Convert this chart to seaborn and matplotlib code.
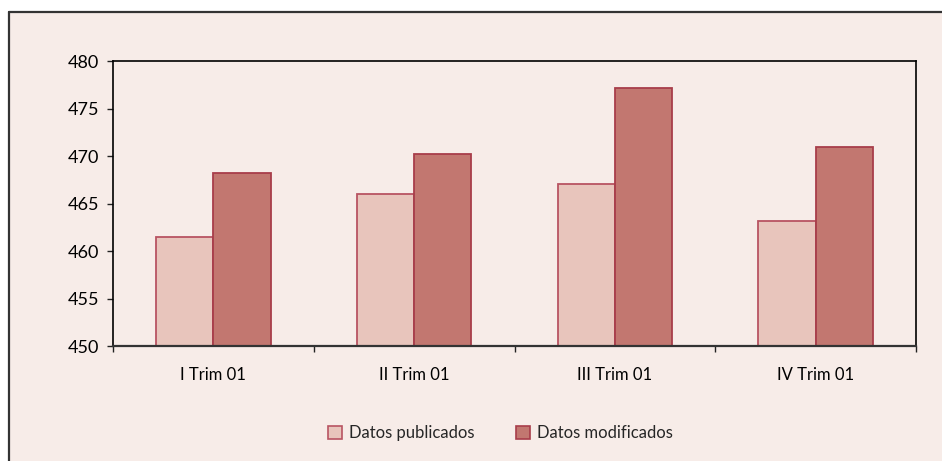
import matplotlib
matplotlib.use("Agg")
import matplotlib.pyplot as plt
import seaborn as sns
import pandas as pd
import numpy as np
from matplotlib.patches import Rectangle, Patch
from matplotlib.lines import Line2D

categories = ["I Trim 01", "II Trim 01", "III Trim 01", "IV Trim 01"]
publicados = [461.5, 466.0, 467.1, 463.2]
modificados = [468.2, 470.2, 477.2, 471.0]
series_names = ["Datos publicados", "Datos modificados"]
y_ticks = [450, 455, 460, 465, 470, 475, 480]

df = pd.DataFrame({
    "cat": categories * 2,
    "serie": [series_names[0]] * 4 + [series_names[1]] * 4,
    "valor": publicados + modificados,
})

sns.set_theme(style="white")
plt.rcParams["font.family"] = ["Lato", "DejaVu Sans"]

bg = "#f7ece8"
fill_colors = ["#e8c5bc", "#c27770"]
edge_colors = ["#b85462", "#a83d4a"]

fig = plt.figure(figsize=(9.42, 4.61), dpi=100)
fig.patch.set_facecolor("white")
# outer panel
fig.patches.append(Rectangle((9 / 942, 0), 1 - 9 / 942, (461 - 12) / 461,
                             transform=fig.transFigure, facecolor=bg,
                             edgecolor="none", zorder=-10))
fig.lines.append(Line2D([9 / 942, 1], [(461 - 12) / 461] * 2, transform=fig.transFigure,
                        color="#333333", lw=1.6, zorder=-5))
fig.lines.append(Line2D([9 / 942, 9 / 942], [0, (461 - 12) / 461], transform=fig.transFigure,
                        color="#333333", lw=1.6, zorder=-5))

ax = fig.add_axes([113 / 942, (461 - 346) / 461, (916 - 113) / 942, (346 - 61) / 461])
ax.set_facecolor(bg)
ax.set_zorder(1)

sns.barplot(data=df, x="cat", y="valor", hue="serie", palette=fill_colors,
            width=0.57, dodge=True, ax=ax, legend=False, saturation=1,
            linewidth=1.3, gap=0)

# edges per series
for i, cont in enumerate(ax.containers):
    for bar in cont:
        bar.set_edgecolor(edge_colors[i])
        bar.set_linewidth(1.3)

ax.set_ylim(450, 480)
ax.set_xlim(-0.5, 3.5)
ax.set_yticks(y_ticks)
ax.set_yticklabels([str(v) for v in y_ticks], fontsize=13, color="black")
ax.set_xticks([-0.5, 0.5, 1.5, 2.5, 3.5])
ax.set_xticklabels([])
ax.set_xticks(range(4), minor=True)
ax.set_xticklabels(categories, minor=True, fontsize=12, color="black")
ax.tick_params(axis="x", which="major", direction="out", length=4, width=1, color="#222222", bottom=True)
ax.tick_params(axis="x", which="minor", length=0, pad=15, bottom=True)
ax.tick_params(axis="y", direction="out", length=4, width=1, color="#222222", left=True, pad=6)
ax.set_xlabel("")
ax.set_ylabel("")
for side in ["left", "top", "right"]:
    ax.spines[side].set_color("black")
    ax.spines[side].set_linewidth(1.2)
    ax.spines[side].set_visible(True)
ax.spines["bottom"].set_color("#333333")
ax.spines["bottom"].set_linewidth(1.6)
ax.spines["bottom"].set_visible(True)

handles = [Patch(facecolor=fill_colors[i], edgecolor=edge_colors[i], linewidth=1.2,
                 label=series_names[i]) for i in range(2)]
fig.legend(handles=handles, loc="center", bbox_to_anchor=(0.531, 1 - 433 / 461),
           ncol=2, frameon=False, fontsize=12, handlelength=0.85, handleheight=0.85,
           handletextpad=0.4, columnspacing=2.5)

fig.savefig("out.png", dpi=100, facecolor=fig.get_facecolor())
